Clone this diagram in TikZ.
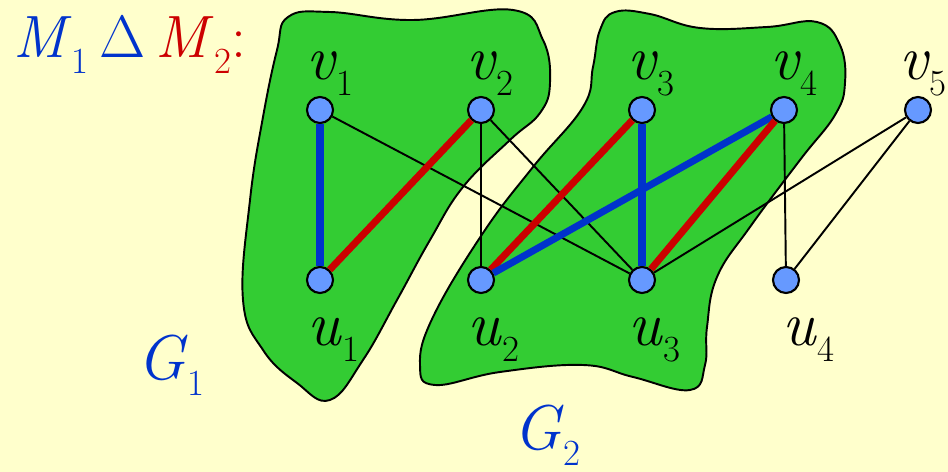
\documentclass[tikz,border=0pt]{standalone}
\usepackage{fix-cm}
\usetikzlibrary{positioning}
\definecolor{BgYellow}{RGB}{255,255,204}
\definecolor{BlobGreen}{RGB}{51,204,51}
\definecolor{NodeBlue}{RGB}{102,153,255}
\definecolor{MBlue}{RGB}{0,51,204}
\definecolor{MRed}{RGB}{204,0,0}
\newcommand{\idx}[2]{\textit{#1}\raisebox{-9pt}{\fontsize{21}{24}\selectfont #2}}

\begin{document}
\begin{tikzpicture}[
        x=0.02cm, y=-0.02cm,
        nd/.style={circle,draw=black,fill=NodeBlue,line width=1.2pt,
                   minimum size=0.52cm,inner sep=0pt},
        lab/.style={anchor=base west,inner sep=0pt,
                    font=\fontsize{36}{40}\selectfont},
        blob/.style={draw=black,fill=BlobGreen,line width=1.1pt},
        pl/.style={black,line width=1.1pt},
        mb/.style={MBlue,line width=4pt},
        mr/.style={MRed,line width=4pt}
      ]
        \useasboundingbox (0,0) rectangle (948,472);
        \fill[BgYellow] (0,0) rectangle (948,472);
        % the two components
        \draw[blob] plot[smooth cycle,tension=0.7] coordinates {
          (288,17) (330,12) (413,20) (513,10) (543,40) (550,83) (540,113)
          (510,140) (463,187) (430,240) (397,300) (363,360) (330,400)
          (297,383) (263,350) (243,300) (250,200) (263,117) (277,50)};
        \draw[blob] plot[smooth cycle,tension=0.7] coordinates {
          (600,30) (615,12) (650,14) (700,28) (767,27) (817,22) (840,45)
          (845,83) (835,115) (800,160) (750,227) (717,277) (707,327)
          (705,365) (690,390) (633,377) (583,365) (500,372) (435,385)
          (420,365) (433,317) (483,233) (533,167) (583,107) (593,67)};
        % vertices
        \node[nd] (v1) at (320,110) {};
        \node[nd] (v2) at (481,110) {};
        \node[nd] (v3) at (642,110) {};
        \node[nd] (v4) at (784,110) {};
        \node[nd] (v5) at (918,110) {};
        \node[nd] (u1) at (320,280) {};
        \node[nd] (u2) at (481,280) {};
        \node[nd] (u3) at (642,280) {};
        \node[nd] (u4) at (786,280) {};
        % edges
        \draw[pl] (v1)--(u3);
        \draw[pl] (v2)--(u2);
        \draw[pl] (v2)--(u3);
        \draw[pl] (v4)--(u4);
        \draw[pl] (v5)--(u3);
        \draw[pl] (v5)--(u4);
        \draw[mb] (v1)--(u1);
        \draw[mr] (v2)--(u1);
        \draw[mr] (v3)--(u2);
        \draw[mb] (v3)--(u3);
        \draw[mb] (v4)--(u2);
        \draw[mr] (v4)--(u3);
        % labels
        \node[lab] (lv1) at (306,80) {\idx{v}{1}};
        \node[lab] (lv2) at (466,80) {\idx{v}{2}};
        \node[lab] (lv3) at (627,80) {\idx{v}{3}};
        \node[lab] (lv4) at (770,80) {\idx{v}{4}};
        \node[lab] (lv5) at (899,80) {\idx{v}{5}};
        \node[lab] (lu1) at (307,346) {\idx{u}{1}};
        \node[lab] (lu2) at (467,346) {\idx{u}{2}};
        \node[lab] (lu3) at (628,346) {\idx{u}{3}};
        \node[lab] (lu4) at (782,346) {\idx{u}{4}};
        \node[lab,MBlue] (g1) at (137,380) {\idx{G}{1}};
        \node[lab,MBlue] (g2) at (513,450) {\idx{G}{2}};
        \node[lab,font=\fontsize{34}{38}\selectfont] (title) at (13,58)
          {\textcolor{MBlue}{\idx{M}{1}\hspace{6pt}$\Delta$}\hspace{6pt}%
           \textcolor{MRed}{\idx{M}{2}:}};
      \end{tikzpicture}
\end{document}
